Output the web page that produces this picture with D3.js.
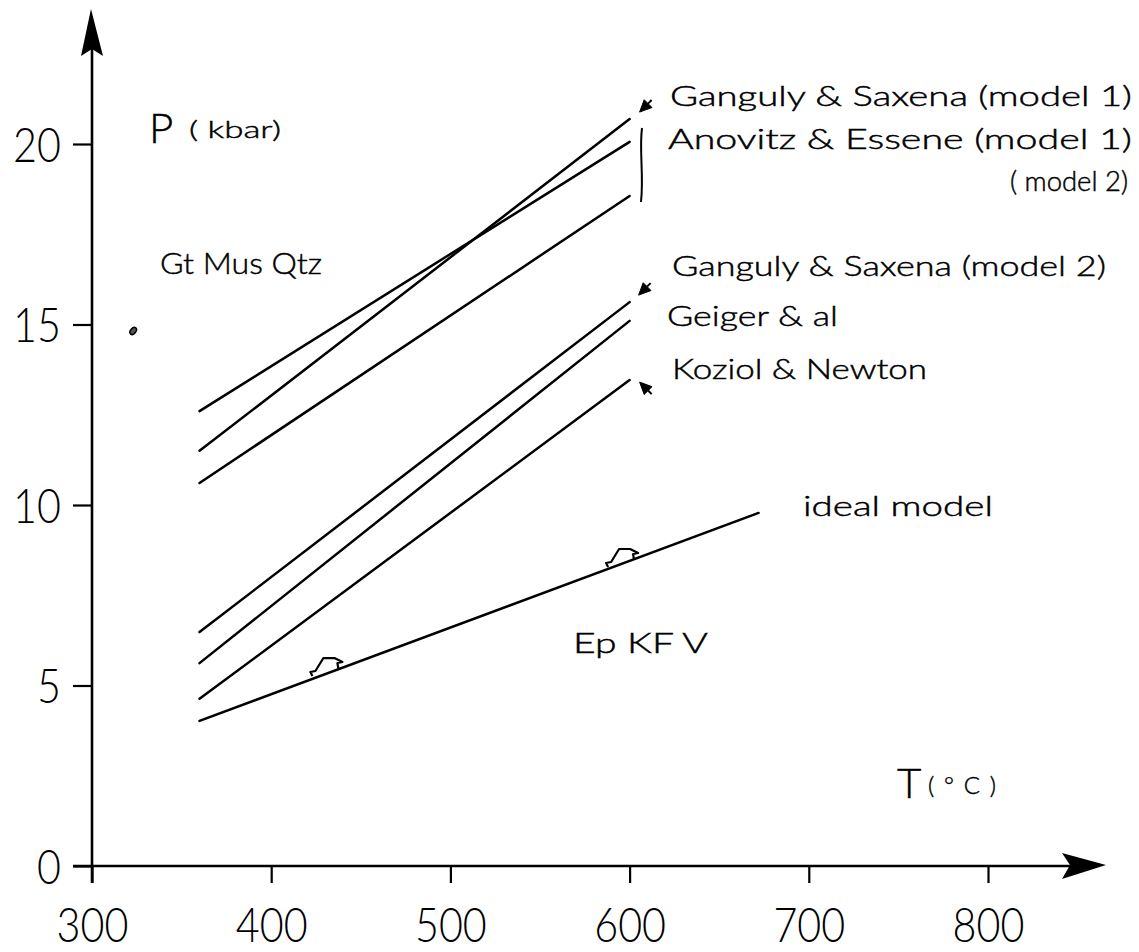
<!DOCTYPE html>
<html><head><meta charset="utf-8">
<script src="https://cdn.jsdelivr.net/npm/d3@7"></script>
<style>body{margin:0;background:#fff}svg{display:block}</style>
</head><body>
<svg id="c" width="1139" height="952"></svg>
<script>
// ---- data ----
const seriesNames = ["Ganguly & Saxena (model 1)", "Anovitz & Essene (model 1)", "Anovitz & Essene (model 2)",
                     "Ganguly & Saxena (model 2)", "Geiger & al", "Koziol & Newton"];
const seriesT = [360, 600];
const seriesStartP = [11.50, 12.60, 10.61, 6.48, 5.62, 4.63];
const seriesEndP   = [20.69, 20.06, 18.56, 15.62, 15.10, 13.46];
const idealT = [360, 672];
const idealP = [4.02, 9.78];
const markerT = [423, 588];   // small direction marks on the ideal line
const markerP = [5.29, 8.31];
const pointT = [323];         // small dot near Gt Mus Qtz
const pointP = [14.82];
const xTicks = [300, 400, 500, 600, 700, 800];
const yTicks = [0, 5, 10, 15, 20];

// ---- layout ----
const svg = d3.select("#c");
const x = d3.scaleLinear().domain([300, 800]).range([92, 988]);
const y = d3.scaleLinear().domain([0, 20]).range([866, 144]);
const LABEL = "Lato, 'DejaVu Sans', sans-serif";
const NUM = "Lato, 'DejaVu Sans', sans-serif";

// axes lines + arrows
const ax = x(300), ay = y(0);
svg.append("line").attr("x1", ax).attr("x2", ax).attr("y1", ay + 17).attr("y2", 30)
  .attr("stroke", "#000").attr("stroke-width", 2.6);
svg.append("line").attr("x1", ax - 19).attr("x2", 1080).attr("y1", ay).attr("y2", ay)
  .attr("stroke", "#000").attr("stroke-width", 2.6);
svg.append("path").attr("d", `M${ax-1},9 L${ax+11},56 L${ax},49 L${ax-11},56 Z`).attr("fill", "#000");
svg.append("path").attr("d", `M1106,${ay-1} L1062,${ay-13} L1070,${ay-1} L1062,${ay+13} Z`).attr("fill", "#000");

// axes via d3
const gx = svg.append("g").attr("transform", `translate(0,${ay})`)
  .call(d3.axisBottom(x).tickValues(xTicks).tickSize(17).tickFormat(d3.format("d")));
gx.select(".domain").remove();
gx.selectAll(".tick line").attr("stroke", "#000").attr("stroke-width", 2.2);
gx.selectAll(".tick text").attr("y", null).attr("dy", null)
  .attr("transform", "translate(0,76) scale(0.86,1)")
  .attr("font-family", NUM).attr("font-weight", 300).attr("font-size", 48).attr("fill", "#000");

const gy = svg.append("g").attr("transform", `translate(${ax},0)`)
  .call(d3.axisLeft(y).tickValues(yTicks).tickSize(19).tickFormat(d3.format("d")));
gy.select(".domain").remove();
gy.selectAll(".tick line").attr("stroke", "#000").attr("stroke-width", 2.2);
gy.selectAll(".tick text").attr("x", null).attr("dy", null)
  .attr("transform", "translate(-31,17) scale(0.86,1)").attr("text-anchor", "end")
  .attr("font-family", NUM).attr("font-weight", 300).attr("font-size", 48).attr("fill", "#000");

// reaction lines
const line = d3.line().x(d => x(d[0])).y(d => y(d[1]));
const lineData = seriesNames.map((n, i) => [[seriesT[0], seriesStartP[i]], [seriesT[1], seriesEndP[i]]]);
svg.append("g").selectAll("path").data(lineData).join("path")
  .attr("d", line).attr("fill", "none").attr("stroke", "#000").attr("stroke-width", 2.5).attr("stroke-linecap", "round");
svg.append("path").datum(idealT.map((t, i) => [t, idealP[i]]))
  .attr("d", line).attr("fill", "none").attr("stroke", "#000").attr("stroke-width", 2.5).attr("stroke-linecap", "round");

// direction marks on ideal line
svg.append("g").selectAll("path").data(markerT.map((t, i) => [t, markerP[i]])).join("path")
  .attr("transform", d => `translate(${x(d[0])},${y(d[1])})`)
  .attr("d", "M0,1 L-2,-3 L3,-4 L11,-17 L22,-17 L30,-13 L25,-12 L26,-6")
  .attr("fill", "none").attr("stroke", "#000").attr("stroke-width", 2.2).attr("stroke-linejoin", "round");

// dot
svg.append("g").selectAll("ellipse").data(pointT.map((t, i) => [t, pointP[i]])).join("ellipse")
  .attr("transform", d => `translate(${x(d[0])},${y(d[1])}) rotate(-50)`)
  .attr("rx", 4).attr("ry", 2.6).attr("fill", "#555").attr("stroke", "#000").attr("stroke-width", 1.5);

// bracket beside the Anovitz & Essene lines
svg.append("path").attr("d", "M642,128 C639,150 644,175 641,202")
  .attr("fill", "none").attr("stroke", "#000").attr("stroke-width", 2);

// small pointer arrows near labels
function arrowHead(tx, ty, ang, L = 12, w = 5.5, tail = 5) {
  const c = Math.cos(ang), s = Math.sin(ang);
  const bx = tx - L * c, by = ty - L * s;
  const px = -s * w, py = c * w;
  svg.append("path").attr("d", `M${tx},${ty} L${bx+px},${by+py} L${bx-px},${by-py} Z`)
    .attr("fill", "#000").attr("stroke", "#000").attr("stroke-width", 1).attr("stroke-linejoin", "round");
  svg.append("line").attr("x1", bx).attr("y1", by).attr("x2", bx - tail * c).attr("y2", by - tail * s)
    .attr("stroke", "#000").attr("stroke-width", 2);
}
const ptrSeries = [0, 3, 5];
const ptrOffset = [[10, -7], [9, -7], [10, 2]];
const ptrAngle = [135, 135, 225];
ptrSeries.forEach((si, k) => {
  arrowHead(x(seriesT[1]) + ptrOffset[k][0], y(seriesEndP[si]) + ptrOffset[k][1], ptrAngle[k] * Math.PI / 180);
});

// text labels
function label(txt, xx, yy, size, len, opts = {}) {
  const t = svg.append("text").attr("x", xx).attr("y", yy).text(txt)
    .attr("font-family", opts.family || LABEL).attr("font-size", size).attr("fill", "#000")
    .attr("font-weight", opts.weight || 300).attr("stroke", "#000").attr("stroke-width", 0.45);
  if (len) t.attr("textLength", len).attr("lengthAdjust", opts.adjust || "spacingAndGlyphs");
  if (opts.anchor) t.attr("text-anchor", opts.anchor);
  return t;
}
label("Ganguly & Saxena (model 1)", 670, 106, 27, 462);
label("Anovitz  & Essene (model 1)", 668, 149, 27, 464);
label("( model 2)", 1010, 191, 27, 118);
label("Ganguly & Saxena  (model 2)", 672, 276, 27, 434);
label("Geiger & al", 667, 326, 27, 171);
label("Koziol  & Newton", 672, 379, 27, 255);
label("ideal model", 803, 516, 27, 190);
label("Ep KF  V", 573, 653, 27, 135);
label("Gt  Mus Qtz", 160, 274, 30, 162);
label("P", 149, 143, 42, null, {family: NUM});
label("( kbar)", 189, 138, 24, 92, {family: NUM});
label("T", 897, 798, 42, null, {family: NUM});
label("( ° C )", 928, 794, 24, 68, {family: NUM, adjust: "spacing"});
</script>
</body></html>
